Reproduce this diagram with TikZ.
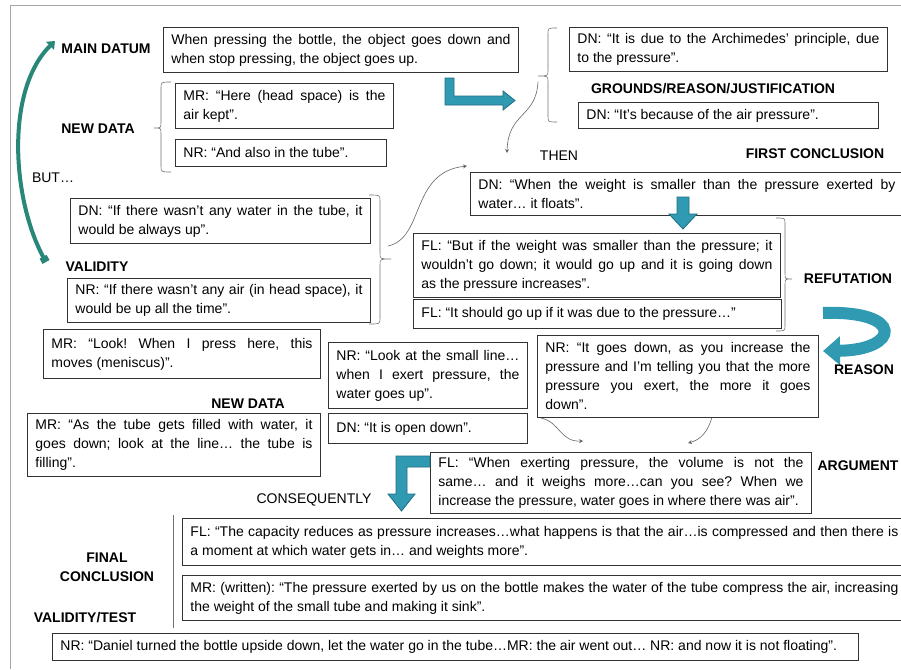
\documentclass[tikz,border=0pt]{standalone}
\usepackage{fontspec}
\setmainfont{Liberation Sans}
\usetikzlibrary{arrows.meta}
\definecolor{tealA}{RGB}{48,154,178}
\definecolor{tealB}{RGB}{30,110,130}
\definecolor{arcteal}{RGB}{40,135,120}
\frenchspacing
\begin{document}
\begin{tikzpicture}[x=1pt,y=-1pt,
 bx/.style={draw=black!80, line width=0.9pt, fill=white, inner xsep=8pt, inner ysep=1pt, anchor=north west, align=justify, font=\fontsize{14}{19}\selectfont},
 lbl/.style={font=\fontsize{14}{19}\selectfont\bfseries, inner sep=0pt, text=black},
 plainlbl/.style={font=\fontsize{14}{19}\selectfont, inner sep=0pt, text=black},
 bracegray/.style={draw=black!55, line width=0.6pt},
 thinarrow/.style={draw=black!60, line width=0.6pt, -{Stealth[length=4pt,width=4pt]}},
 tealfill/.style={fill=tealA, draw=tealB, line width=0.8pt}]

\useasboundingbox (0,0) rectangle (901,669);
\fill[white] (0,0) rectangle (901,669);
\draw[black!35, line width=0.8pt] (10,669) -- (10,5) -- (901,5);

% braces
\draw[bracegray] (171,82) .. controls (161,82) .. (161,88) -- (161,122) .. controls (161,128) .. (154,128) .. controls (161,128) .. (161,134) -- (161,166) .. controls (161,172) .. (171,172);
\draw[bracegray] (557,28) .. controls (548,28) .. (548,34) -- (548,70) .. controls (548,76) .. (538,76) .. controls (548,76) .. (548,82) -- (548,116) .. controls (548,122) .. (557,122);
\draw[bracegray] (369,195) .. controls (380,195) .. (380,201) -- (380,253) .. controls (380,259) .. (391,259) .. controls (380,259) .. (380,265) -- (380,318) .. controls (380,324) .. (369,324);
\draw[bracegray] (776,218) .. controls (785,218) .. (785,224) -- (785,273) .. controls (785,279) .. (792,279) .. controls (785,279) .. (785,285) -- (785,325) .. controls (785,331) .. (776,331);
\draw[bracegray] (173,515) -- (173,628);

% thin curved connectors
\coordinate (gtip) at (538,82);
\coordinate (thenpt) at (507,153);
\coordinate (vtip) at (388,246);
\coordinate (concpt) at (467,166);
\coordinate (c1s) at (541,418);
\coordinate (c1e) at (583,441);
\coordinate (c2s) at (712,417);
\coordinate (c2e) at (688,443);
\draw[thinarrow] (gtip) .. controls (536,118) and (508,112) .. (thenpt);
\draw[thinarrow] (vtip) .. controls (425,238) and (410,172) .. (concpt);
\draw[thinarrow] (c1s) .. controls (560,422) and (560,442) .. (c1e);
\draw[thinarrow] (c2s) .. controls (708,432) and (700,440) .. (c2e);

% boxes
\node[bx, text width=339pt, minimum height=45pt] (datum) at (163,27) {When pressing the bottle, the object goes down and\linebreak when stop pressing, the object goes up.};
\node[bx, text width=202pt, minimum height=45pt] (mrhere) at (175,83) {MR: “Here (head space) is the\linebreak air kept”.};
\node[bx, text width=195pt, minimum height=27pt] (nralso) at (175,139) {NR: “And also in the tube”.};
\node[bx, text width=302pt, minimum height=44pt] (dnarch) at (569,27) {DN: “It is due to the Archimedes’ principle, due\linebreak to the pressure”.};
\node[bx, text width=284pt, minimum height=26pt] (dnair) at (578,102) {DN: “It’s because of the air pressure”.};
\node[bx, text width=417pt, minimum height=43pt] (dnweight) at (470,172) {DN: “When the weight is smaller than the pressure exerted by\linebreak water… it floats”.};
\node[bx, text width=284pt, minimum height=45pt] (dnwater) at (70,198) {DN: “If there wasn’t any water in the tube, it\linebreak would be always up”.};
\node[bx, text width=287pt, minimum height=44pt] (nrair) at (67,278) {NR: “If there wasn’t any air (in head space), it\linebreak would be up all the time”.};
\node[bx, text width=351pt, minimum height=64pt] (flbut) at (413,233) {FL: “But if the weight was smaller than the pressure; it\linebreak wouldn’t go down; it would go up and it is going down\linebreak as the pressure increases”.};
\node[bx, text width=352pt, minimum height=29pt] (flshould) at (413,299) {FL: “It should go up if it was due to the pressure…”};
\node[bx, text width=261pt, minimum height=49pt] (mrlook) at (43,329) {MR: “Look! When I press here, this\linebreak moves (meniscus)”.};
\node[bx, text width=277pt, minimum height=63pt] (mrtube) at (27,413) {MR: “As the tube gets filled with water, it\linebreak goes down; look at the line… the tube is\linebreak filling”.};
\node[bx, text width=183pt, minimum height=66pt] (nrsmall) at (328,342) {NR: “Look at the small line…\linebreak when I exert pressure, the\linebreak water goes up”.};
\node[bx, text width=183pt, minimum height=30pt] (dnopen) at (328,413) {DN: “It is open down”.};
\node[bx, text width=265pt, minimum height=82pt] (nrgoes) at (537,335) {NR: “It goes down, as you increase the\linebreak pressure and I’m telling you that the more\linebreak pressure you exert, the more it goes\linebreak down”.};
\node[bx, text width=365pt, minimum height=61pt] (flexert) at (430,452) {FL: “When exerting pressure, the volume is not the\linebreak same… and it weighs more…can you see? When we\linebreak increase the pressure, water goes in where there was air”.};
\node[bx, text width=708pt, minimum height=47pt] (flcap) at (182,518) {FL: “The capacity reduces as pressure increases…what happens is that the air…is compressed and then there is\linebreak a moment at which water gets in… and weights more”.};
\node[bx, text width=708pt, minimum height=45pt] (mrwritten) at (182,575) {MR: (written): “The pressure exerted by us on the bottle makes the water of the tube compress the air, increasing\linebreak the weight of the small tube and making it sink”.};
\node[bx, text width=790pt, minimum height=27pt] (nrdaniel) at (52,633) {NR: “Daniel turned the bottle upside down, let the water go in the tube…MR: the air went out… NR: and now it is not floating”.};

% teal arrows
\draw[tealfill] (445,78) -- (454,78) -- (454,96) -- (503,96) -- (503,91) -- (515,100.5) -- (503,110) -- (503,105) -- (445,105) -- cycle;
\draw[tealfill] (677,197) -- (689,197) -- (689,214) -- (697,214) -- (683,229) -- (669,214) -- (677,214) -- cycle;
\draw[tealfill] (396,456) -- (430,456) -- (430,467) -- (407,467) -- (407,494) -- (415,494) -- (401.5,511) -- (388,494) -- (396,494) -- cycle;
\draw[line width=12pt, color=tealA, -{Triangle[length=17pt,width=28pt]}] (823,313) .. controls (905,310) and (900,350) .. (823,351);
\draw[line width=4pt, color=arcteal, {Square[length=6pt,width=8pt]}-{Triangle[length=7pt,width=11pt]}] (46,262) .. controls (12,200) and (5,90) .. (55,41);

% labels
\node[lbl] (lmain) at (106,49) {MAIN DATUM};
\node[lbl] (lnew1) at (98,129) {NEW DATA};
\node[lbl] (lgrounds) at (713,89) {GROUNDS/REASON/JUSTIFICATION};
\node[plainlbl] (lthen) at (559,156) {THEN};
\node[lbl] (lfirst) at (815,154) {FIRST CONCLUSION};
\node[plainlbl] (lbut) at (53,178) {BUT…};
\node[lbl] (lvalid) at (97,267) {VALIDITY};
\node[lbl] (lrefut) at (848,279) {REFUTATION};
\node[lbl] (lnew2) at (248,404) {NEW DATA};
\node[lbl] (lreason) at (864,370) {REASON};
\node[lbl] (larg) at (858,466) {ARGUMENT};
\node[plainlbl] (lcons) at (314,500) {CONSEQUENTLY};
\node[lbl, align=center] (lfinal) at (107,567) {FINAL\\CONCLUSION};
\node[lbl] (lvt) at (85,618) {VALIDITY/TEST};
\end{tikzpicture}
\end{document}
